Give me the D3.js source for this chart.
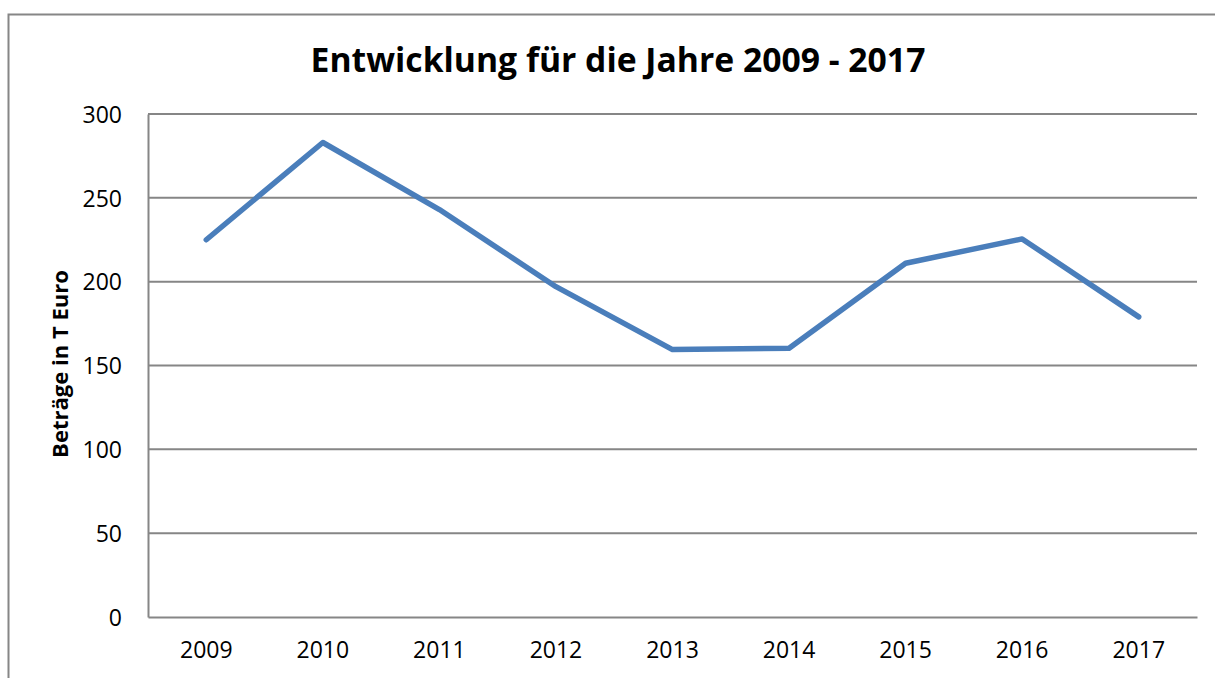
<!DOCTYPE html>
<html>
<head>
<meta charset="utf-8">
<script src="https://cdn.jsdelivr.net/npm/d3@7"></script>
<style>
  body { margin: 0; background: #fff; }
  svg { display: block; }
  text { font-family: "Open Sans", "Noto Sans", sans-serif; fill: #000; }
</style>
</head>
<body>
<div id="chart"></div>
<script>
var years = ['2009', '2010', '2011', '2012', '2013', '2014', '2015', '2016', '2017'];
var betraege = [225, 283, 243, 197, 159.5, 160.3, 211, 225.5, 179];
var yTicks = [0, 50, 100, 150, 200, 250, 300];
var title = 'Entwicklung für die Jahre 2009 - 2017';
var yTitle = 'Beträge in T Euro';

var width = 1215, height = 678;
var margin = {left: 148, top: 114, right: 18, bottom: 61};
var gray = '#868686';
var lineColor = '#4A7EBB';

var svg = d3.select('#chart').append('svg')
  .attr('width', width)
  .attr('height', height);

// outer chart border (runs off the right and bottom edge)
svg.append('rect')
  .attr('x', 8.5).attr('y', 14.5)
  .attr('width', width + 10).attr('height', height + 10)
  .attr('fill', '#fff')
  .attr('stroke', gray)
  .attr('stroke-width', 2);

var x = d3.scaleBand()
  .domain(years)
  .range([margin.left, width - margin.right]);

var y = d3.scaleLinear()
  .domain([0, 300])
  .range([height - margin.bottom, margin.top]);

// gridlines
svg.append('g')
  .selectAll('line')
  .data(yTicks.filter(function(d) { return d > 0; }))
  .enter().append('line')
  .attr('x1', margin.left).attr('x2', width - margin.right)
  .attr('y1', function(d) { return y(d); })
  .attr('y2', function(d) { return y(d); })
  .attr('stroke', gray)
  .attr('stroke-width', 2);

// y axis
var yAxis = svg.append('g')
  .attr('transform', 'translate(' + margin.left + ',0)')
  .call(d3.axisLeft(y).tickValues(yTicks).tickSize(0).tickPadding(26));
yAxis.select('.domain').attr('stroke', gray).attr('stroke-width', 2);
yAxis.selectAll('text')
  .style('font-size', '23px')
  .style('font-family', '"Open Sans", sans-serif')
  .attr('dy', '0.36em');

// x axis
var xAxis = svg.append('g')
  .attr('transform', 'translate(0,' + (height - margin.bottom) + ')')
  .call(d3.axisBottom(x).tickSize(0).tickPadding(25));
xAxis.select('.domain').attr('stroke', gray).attr('stroke-width', 2);
xAxis.selectAll('text')
  .style('font-size', '23px')
  .style('font-family', '"Open Sans", sans-serif');

// the series line
var line = d3.line()
  .x(function(d, i) { return x(years[i]) + x.bandwidth() / 2; })
  .y(function(d) { return y(d); });

svg.append('path')
  .datum(betraege)
  .attr('d', line)
  .attr('fill', 'none')
  .attr('stroke', lineColor)
  .attr('stroke-width', 5.5)
  .attr('stroke-linejoin', 'round')
  .attr('stroke-linecap', 'round');

// fit a text element to a target width
function fitWidth(sel, target) {
  var w = sel.node().getComputedTextLength();
  var fs = parseFloat(sel.style('font-size'));
  sel.style('font-size', (fs * target / w) + 'px');
}

var t = svg.append('text')
  .attr('x', 618).attr('y', 72)
  .attr('text-anchor', 'middle')
  .style('font-weight', 'bold')
  .style('font-size', '32px')
  .text(title);
fitWidth(t, 615);

var yt = svg.append('text')
  .attr('transform', 'translate(68,' + 364 + ') rotate(-90)')
  .attr('text-anchor', 'middle')
  .style('font-weight', 'bold')
  .style('font-size', '19px')
  .text(yTitle);
fitWidth(yt, 188);
</script>
</body>
</html>
